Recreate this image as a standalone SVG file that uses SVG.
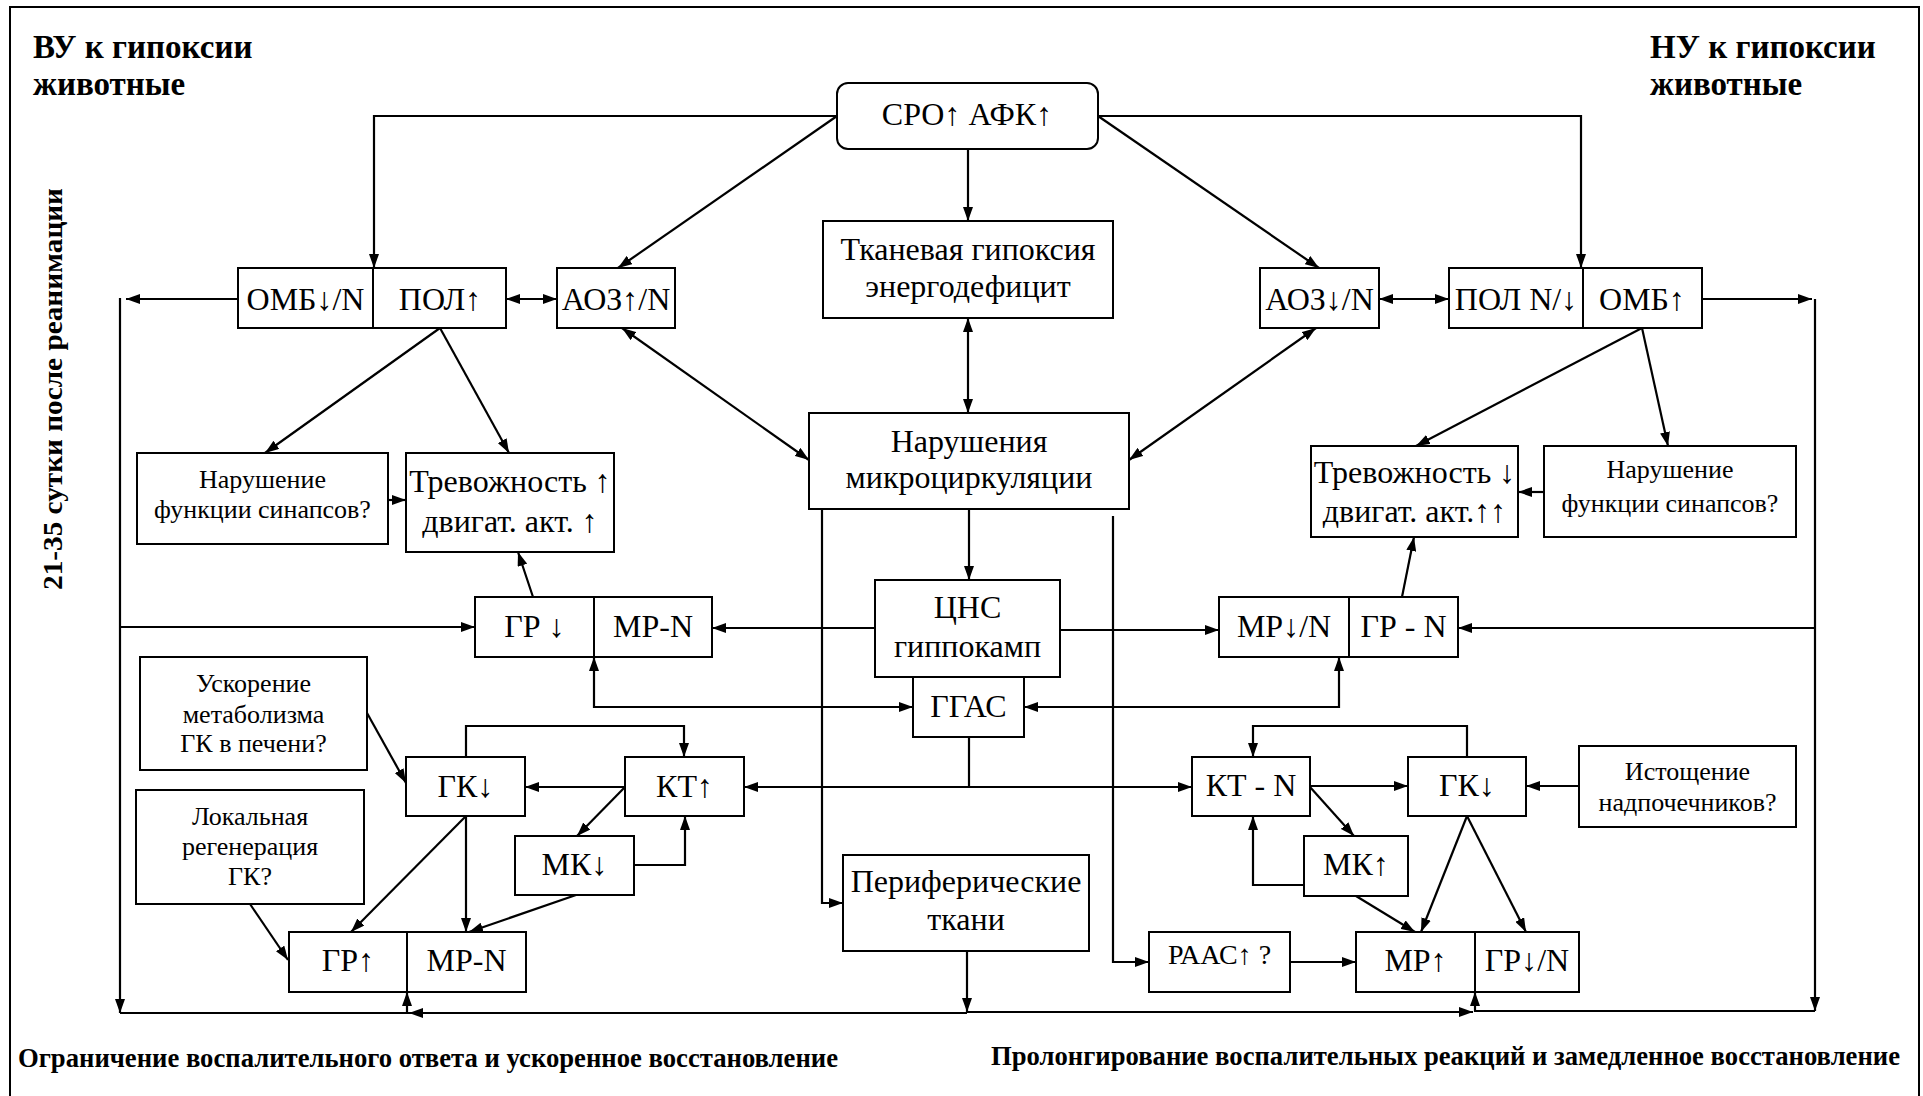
<svg xmlns="http://www.w3.org/2000/svg" width="1923" height="1096" viewBox="0 0 1923 1096">
<style>
.b{fill:#fff;stroke:#000;stroke-width:2}
.d{stroke:#000;stroke-width:2}
.t{font-family:"Liberation Serif","Times New Roman",serif;font-size:32px;text-anchor:middle;fill:#000}
.s{font-family:"Liberation Serif","Times New Roman",serif;font-size:26px;text-anchor:middle;fill:#000}
.h{font-family:"Liberation Serif","Times New Roman",serif;font-size:33px;font-weight:bold;fill:#000}
.f{font-family:"Liberation Serif","Times New Roman",serif;font-size:27px;font-weight:bold;fill:#000}
#connectors path{fill:none;stroke:#000;stroke-width:2.2}
.e{marker-end:url(#a)}
.w{marker-start:url(#a);marker-end:url(#a)}
</style>
<defs>
<marker id="a" markerUnits="userSpaceOnUse" markerWidth="15" markerHeight="10" refX="14" refY="5" orient="auto-start-reverse"><path d="M0,0 L14,5 L0,10 z" fill="#000"/></marker>
</defs>
<rect x="0" y="0" width="1923" height="1096" fill="#fff"/>
<rect x="10" y="7" width="1909" height="1100" fill="none" stroke="#000" stroke-width="2"/>

<g id="labels">
<text class="h" x="33" y="58">ВУ к гипоксии</text>
<text class="h" x="33" y="95">животные</text>
<text class="h" x="1650" y="58">НУ к гипоксии</text>
<text class="h" x="1650" y="95">животные</text>
<text class="f" transform="translate(62,590) rotate(-90)" textLength="402" lengthAdjust="spacingAndGlyphs">21-35 сутки после реанимации</text>
<text class="f" x="18" y="1067" textLength="820" lengthAdjust="spacingAndGlyphs">Ограничение воспалительного ответа и ускоренное восстановление</text>
<text class="f" x="991" y="1065" textLength="909" lengthAdjust="spacingAndGlyphs">Пролонгирование воспалительных реакций и замедленное восстановление</text>
</g>

<g id="connectors">
<path class="e" d="M837,116 H374 V268"/>
<path class="e" d="M1098,116 H1581 V268"/>
<path class="e" d="M837,116 L618,268"/>
<path class="e" d="M1098,116 L1319,268"/>
<path class="e" d="M968,149 V221"/>
<path class="w" d="M968,318 V413"/>
<path class="w" d="M622,328 L809,460"/>
<path class="w" d="M1316,328 L1129,460"/>
<path class="w" d="M506,299 H557"/>
<path class="w" d="M1379,299 H1449"/>
<path class="e" d="M238,299 H126"/>
<path class="e" d="M120,298 V1013"/>
<path class="e" d="M1702,299 H1812"/>
<path class="e" d="M1815,299 V1011"/>
<path class="e" d="M440,328 L265,453"/>
<path class="e" d="M440,328 L509,453"/>
<path class="e" d="M388,500 H406"/>
<path class="e" d="M1642,328 L1416,446"/>
<path class="e" d="M1642,328 L1668,446"/>
<path class="e" d="M1544,492 H1518"/>
<path class="e" d="M533,597 L518,552"/>
<path class="e" d="M1402,597 L1414,537"/>
<path class="e" d="M120,627 H475"/>
<path class="e" d="M1815,628 H1458"/>
<path class="e" d="M969,509 V580"/>
<path class="e" d="M875,628 H712"/>
<path class="e" d="M1060,630 H1219"/>
<path class="w" d="M594,657 V707 H913"/>
<path class="w" d="M1339,657 V707 H1024"/>
<path d="M969,737 V787"/>
<path class="e" d="M969,787 H744"/>
<path class="e" d="M969,787 H1192"/>
<path class="e" d="M822,509 V903 H843"/>
<path class="e" d="M1113,516 V962 H1149"/>
<path class="e" d="M625,787 H525"/>
<path class="e" d="M466,757 V726 H684 V757"/>
<path class="e" d="M625,787 L577,836"/>
<path class="e" d="M634,865 H685 V816"/>
<path class="e" d="M466,816 L351,932"/>
<path class="e" d="M466,816 V932"/>
<path class="e" d="M576,895 L469,932"/>
<path class="e" d="M250,904 L288,960"/>
<path class="e" d="M367,713 L406,783"/>
<path class="e" d="M1310,786 H1408"/>
<path class="e" d="M1467,757 V726 H1253 V757"/>
<path class="e" d="M1310,787 L1354,836"/>
<path class="e" d="M1304,885 H1253 V816"/>
<path class="e" d="M1356,896 L1415,932"/>
<path class="e" d="M1467,816 L1421,932"/>
<path class="e" d="M1467,816 L1526,932"/>
<path class="e" d="M1579,786 H1526"/>
<path class="e" d="M1290,962 H1356"/>
<path class="e" d="M967,951 V1012"/>
<path class="e" d="M967,1013 H409"/>
<path d="M120,1013 H409"/>
<path class="e" d="M407,1013 V992"/>
<path class="e" d="M967,1012 H1473"/>
<path d="M1475,1011 H1815"/>
<path class="e" d="M1475,1012 V992"/>
</g>

<g id="n-sro"><rect class="b" x="837" y="83" width="261" height="66" rx="11"/><text class="t" x="967" y="125">СРО↑  АФК↑</text></g>
<g id="n-tkan"><rect class="b" x="823" y="221" width="290" height="97"/><text class="t" x="968" y="260">Тканевая гипоксия</text><text class="t" x="968" y="297">энергодефицит</text></g>
<g id="n-omb-pol-l"><rect class="b" x="238" y="268" width="268" height="60"/><line class="d" x1="373" y1="268" x2="373" y2="328"/><text class="t" x="305.5" y="310">ОМБ↓/N</text><text class="t" x="440" y="310">ПОЛ↑</text></g>
<g id="n-aoz-l"><rect class="b" x="557" y="268" width="118" height="60"/><text class="t" x="616" y="310">АОЗ↑/N</text></g>
<g id="n-aoz-r"><rect class="b" x="1260" y="268" width="119" height="60"/><text class="t" x="1319.5" y="310">АОЗ↓/N</text></g>
<g id="n-pol-omb-r"><rect class="b" x="1449" y="268" width="253" height="60"/><line class="d" x1="1583" y1="268" x2="1583" y2="328"/><text class="t" x="1516" y="310">ПОЛ N/↓</text><text class="t" x="1642" y="310">ОМБ↑</text></g>
<g id="n-syn-l"><rect class="b" x="137" y="453" width="251" height="91"/><text class="s" x="262.5" y="488">Нарушение</text><text class="s" x="262.5" y="518">функции синапсов?</text></g>
<g id="n-trev-l"><rect class="b" x="406" y="453" width="208" height="99"/><text class="t" x="510" y="492">Тревожность ↑</text><text class="t" x="510" y="532">двигат. акт. ↑</text></g>
<g id="n-micro"><rect class="b" x="809" y="413" width="320" height="96"/><text class="t" x="969" y="452">Нарушения</text><text class="t" x="969" y="488">микроциркуляции</text></g>
<g id="n-trev-r"><rect class="b" x="1311" y="446" width="207" height="91"/><text class="t" x="1414.5" y="483">Тревожность ↓</text><text class="t" x="1414.5" y="522">двигат. акт.↑↑</text></g>
<g id="n-syn-r"><rect class="b" x="1544" y="446" width="252" height="91"/><text class="s" x="1670" y="478">Нарушение</text><text class="s" x="1670" y="512">функции синапсов?</text></g>
<g id="n-gr-mr-l"><rect class="b" x="475" y="597" width="237" height="60"/><line class="d" x1="594" y1="597" x2="594" y2="657"/><text class="t" x="534.5" y="637">ГР ↓</text><text class="t" x="653" y="637">МР-N</text></g>
<g id="n-cns"><rect class="b" x="875" y="580" width="185" height="97"/><text class="t" x="967.5" y="618">ЦНС</text><text class="t" x="967.5" y="657">гиппокамп</text></g>
<g id="n-mr-gr-r"><rect class="b" x="1219" y="597" width="239" height="60"/><line class="d" x1="1349" y1="597" x2="1349" y2="657"/><text class="t" x="1284" y="637">МР↓/N</text><text class="t" x="1403.5" y="637">ГР - N</text></g>
<g id="n-uskor"><rect class="b" x="140" y="657" width="227" height="113"/><text class="s" x="253.5" y="692">Ускорение</text><text class="s" x="253.5" y="723">метаболизма</text><text class="s" x="253.5" y="752">ГК в печени?</text></g>
<g id="n-ggas"><rect class="b" x="913" y="677" width="111" height="60"/><text class="t" x="968.5" y="717">ГГАС</text></g>
<g id="n-gk-l"><rect class="b" x="406" y="757" width="119" height="59"/><text class="t" x="465.5" y="797">ГК↓</text></g>
<g id="n-kt-l"><rect class="b" x="625" y="757" width="119" height="59"/><text class="t" x="684.5" y="797">КТ↑</text></g>
<g id="n-lokal"><rect class="b" x="136" y="790" width="228" height="114"/><text class="s" x="250" y="825">Локальная</text><text class="s" x="250" y="855">регенерация</text><text class="s" x="250" y="885">ГК?</text></g>
<g id="n-mk-l"><rect class="b" x="515" y="836" width="119" height="59"/><text class="t" x="574.5" y="875">МК↓</text></g>
<g id="n-gr-mr-l2"><rect class="b" x="289" y="932" width="237" height="60"/><line class="d" x1="407" y1="932" x2="407" y2="992"/><text class="t" x="348" y="971">ГР↑</text><text class="t" x="466.5" y="971">МР-N</text></g>
<g id="n-periph"><rect class="b" x="843" y="855" width="246" height="96"/><text class="t" x="966" y="892">Периферические</text><text class="t" x="966" y="930">ткани</text></g>
<g id="n-kt-r"><rect class="b" x="1192" y="757" width="118" height="59"/><text class="t" x="1251" y="796">КТ - N</text></g>
<g id="n-gk-r"><rect class="b" x="1408" y="757" width="118" height="59"/><text class="t" x="1467" y="796">ГК↓</text></g>
<g id="n-istosh"><rect class="b" x="1579" y="746" width="217" height="81"/><text class="s" x="1687.5" y="780">Истощение</text><text class="s" x="1687.5" y="811">надпочечников?</text></g>
<g id="n-mk-r"><rect class="b" x="1304" y="836" width="104" height="60"/><text class="t" x="1356" y="875">МК↑</text></g>
<g id="n-raas"><rect class="b" x="1149" y="932" width="141" height="60"/><text class="s" x="1219.5" y="964" style="font-size:28px">РААС↑ ?</text></g>
<g id="n-mr-gr-r2"><rect class="b" x="1356" y="932" width="223" height="60"/><line class="d" x1="1475" y1="932" x2="1475" y2="992"/><text class="t" x="1415.5" y="971">МР↑</text><text class="t" x="1527" y="971">ГР↓/N</text></g>
</svg>
